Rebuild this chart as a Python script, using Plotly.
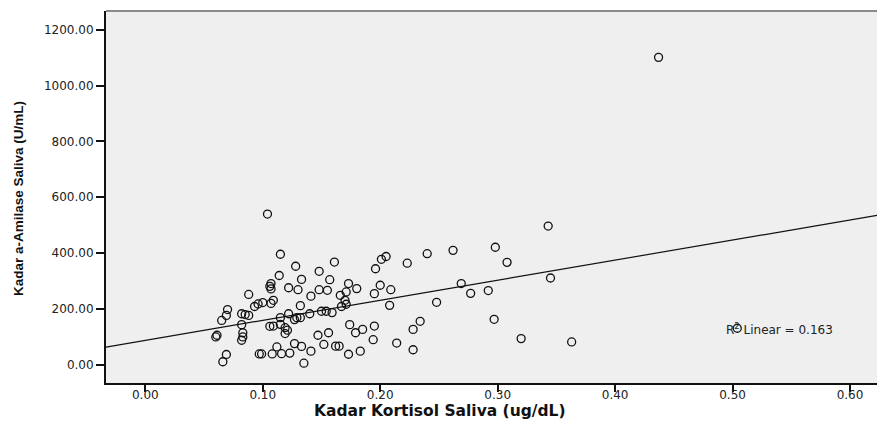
import plotly.graph_objects as go

# Kadar Kortisol Saliva (ug/dL)
kortisol = [
    0.061, 0.060, 0.065, 0.069, 0.070, 0.069, 0.066, 0.082, 0.085, 0.088,
    0.082, 0.083, 0.083, 0.082, 0.088, 0.093, 0.096, 0.100, 0.104, 0.115,
    0.128, 0.114, 0.107, 0.106, 0.107, 0.133, 0.148, 0.161, 0.157, 0.122,
    0.130, 0.148, 0.155, 0.141, 0.166, 0.173, 0.180, 0.171, 0.170, 0.196,
    0.201, 0.205, 0.200, 0.209, 0.195, 0.208, 0.167, 0.171, 0.132, 0.109,
    0.107, 0.115, 0.122, 0.129, 0.127, 0.132, 0.140, 0.150, 0.154, 0.159,
    0.106, 0.109, 0.115, 0.119, 0.121, 0.119, 0.147, 0.156, 0.174, 0.179,
    0.185, 0.195, 0.194, 0.214, 0.112, 0.127, 0.133, 0.141, 0.152, 0.162,
    0.165, 0.173, 0.183, 0.097, 0.099, 0.108, 0.116, 0.123, 0.135, 0.343,
    0.298, 0.262, 0.240, 0.223, 0.308, 0.345, 0.269, 0.277, 0.292, 0.248,
    0.234, 0.228, 0.228, 0.297, 0.320, 0.363, 0.437, 0.504,
]

# Kadar a-Amilase Saliva (U/mL)
amilase = [
    106, 100, 159, 177, 198, 37, 11, 183, 180, 177,
    144, 115, 100, 88, 252, 209, 218, 223, 540, 396,
    353, 320, 291, 281, 272, 306, 335, 368, 305, 276,
    269, 269, 267, 246, 249, 291, 273, 261, 231, 344,
    378, 388, 285, 269, 255, 213, 209, 217, 212, 231,
    220, 169, 183, 169, 162, 169, 183, 192, 192, 187,
    138, 139, 145, 133, 124, 112, 106, 115, 144, 115,
    127, 139, 90, 78, 64, 76, 66, 49, 73, 67,
    67, 38, 49, 39, 39, 39, 40, 42, 6, 497,
    421, 410, 398, 364, 367, 311, 291, 256, 266, 224,
    156, 127, 54, 163, 94, 82, 1101, 131,
]

# Linear fit shown on the chart
fit_intercept = 87.8
fit_slope = 718.0
r2_text = "R<sup>2</sup> Linear = 0.163"

x_ticks = [0.0, 0.1, 0.2, 0.3, 0.4, 0.5, 0.6]
y_ticks = [0, 200, 400, 600, 800, 1000, 1200]

x_range = [-0.0335, 0.623]
y_range = [-65, 1267]

fig = go.Figure()

fit_x = [x_range[0], x_range[1]]
fit_y = [fit_intercept + fit_slope * v for v in fit_x]
fig.add_trace(go.Scatter(
    x=fit_x, y=fit_y, mode="lines",
    line=dict(color="#111111", width=1.2),
    hoverinfo="skip",
))

fig.add_trace(go.Scatter(
    x=kortisol, y=amilase, mode="markers",
    marker=dict(symbol="circle-open", size=8, color="#111111",
                line=dict(width=1.3, color="#111111")),
))

fig.add_annotation(
    x=0.4927, y=127, xref="x", yref="y",
    text=r2_text, showarrow=False, xanchor="left", yanchor="middle",
    font=dict(family="DejaVu Sans", size=12, color="#222222"),
)

fig.add_annotation(
    x=0.433, y=-0.076, xref="paper", yref="paper",
    text="<b>Kadar Kortisol Saliva (ug/dL)</b>", showarrow=False,
    xanchor="center", yanchor="middle",
    font=dict(family="DejaVu Sans", size=15.5, color="#111111"),
)

fig.add_annotation(
    x=-0.1135, y=0.496, xref="paper", yref="paper",
    text="<b>Kadar a-Amilase Saliva (U/mL)</b>", showarrow=False,
    textangle=-90, xanchor="center", yanchor="middle",
    font=dict(family="Liberation Sans", size=13.5, color="#111111"),
)

fig.add_shape(
    type="line", xref="paper", yref="paper", x0=0, x1=1, y0=1, y1=1,
    line=dict(color="#8a8a8a", width=2),
)

fig.update_layout(
    width=877, height=424,
    margin=dict(l=106, r=0, t=11, b=41),
    paper_bgcolor="white",
    plot_bgcolor="#EFEFEF",
    showlegend=False,
    xaxis=dict(
        range=x_range, tickvals=x_ticks,
        ticktext=[f"{v:.2f}" for v in x_ticks],
        showgrid=False, zeroline=False,
        showline=True, linecolor="#111111", linewidth=2,
        ticks="outside", ticklen=7, tickwidth=1.5, tickcolor="#111111",
        ticklabelstandoff=-7,
        tickfont=dict(family="DejaVu Sans", size=12, color="#222222"),
    ),
    yaxis=dict(
        range=y_range, tickvals=y_ticks,
        ticktext=[f"{v:.2f}" for v in y_ticks],
        showgrid=False, zeroline=False,
        showline=True, linecolor="#111111", linewidth=2,
        ticks="outside", ticklen=8, tickwidth=1.5, tickcolor="#111111",
        tickfont=dict(family="DejaVu Sans", size=12, color="#222222"),
    ),
)

fig.write_html("out.html")
